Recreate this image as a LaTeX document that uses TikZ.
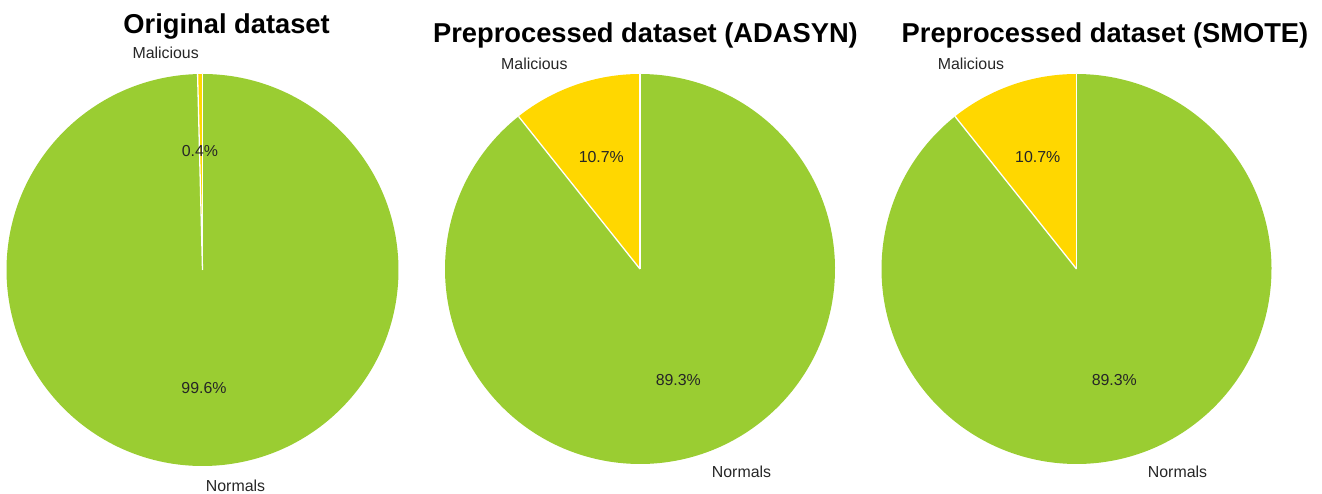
\documentclass[tikz,border=0pt]{standalone}
\usepackage{fontspec}
\setmainfont{Liberation Sans}
\definecolor{normalc}{HTML}{9ACD32}
\definecolor{malc}{HTML}{FFD700}
\definecolor{labc}{HTML}{262626}
\begin{document}
\begin{tikzpicture}[x=1pt,y=1pt,
  titletxt/.style={inner sep=0pt, anchor=base, font=\fontsize{27.3}{30}\selectfont\bfseries, text=black},
  lab/.style={inner sep=0pt, font=\fontsize{15.9}{18}\selectfont, text=labc},
  wedgeline/.style={draw=white, line width=1.3pt}]
\useasboundingbox (0,0) rectangle (1322,493);

% ---- Original dataset ----
\coordinate (c1) at (202.5,223);
\fill[normalc] (c1) -- ++(91.44:196) arc[start angle=91.44, end angle=450, radius=196] -- cycle;
\fill[malc] (c1) -- ++(90:196) arc[start angle=90, end angle=91.44, radius=196] -- cycle;
\draw[wedgeline] (c1) -- ++(90:196);
\draw[wedgeline] (c1) -- ++(91.44:196);
\node[titletxt] (t1) at (226.6,459) {Original dataset};
\node[lab, anchor=base east] (m1) at (199,434.5) {Malicious};
\node[lab, anchor=base] (p1m) at (200,336.5) {0.4\%};
\node[lab, anchor=base] (p1n) at (204,100) {99.6\%};
\node[lab, anchor=base west] (n1) at (205.7,2) {Normals};

% ---- Preprocessed dataset (ADASYN) ----
\coordinate (c2) at (640,224);
\fill[normalc] (c2) -- ++(128.52:195) arc[start angle=128.52, end angle=450, radius=195] -- cycle;
\fill[malc] (c2) -- ++(90:195) arc[start angle=90, end angle=128.52, radius=195] -- cycle;
\draw[wedgeline] (c2) -- ++(90:195);
\draw[wedgeline] (c2) -- ++(128.52:195);
\node[titletxt] (t2) at (645.5,450) {Preprocessed dataset (ADASYN)};
\node[lab, anchor=base east] (m2) at (567.7,423) {Malicious};
\node[lab, anchor=base] (p2m) at (601.3,330) {10.7\%};
\node[lab, anchor=base] (p2n) at (678.3,108) {89.3\%};
\node[lab, anchor=base west] (n2) at (711.7,16) {Normals};

% ---- Preprocessed dataset (SMOTE) ----
\coordinate (c3) at (1076.5,224);
\fill[normalc] (c3) -- ++(128.52:195) arc[start angle=128.52, end angle=450, radius=195] -- cycle;
\fill[malc] (c3) -- ++(90:195) arc[start angle=90, end angle=128.52, radius=195] -- cycle;
\draw[wedgeline] (c3) -- ++(90:195);
\draw[wedgeline] (c3) -- ++(128.52:195);
\node[titletxt] (t3) at (1105,450) {Preprocessed dataset (SMOTE)};
\node[lab, anchor=base east] (m3) at (1004.3,423) {Malicious};
\node[lab, anchor=base] (p3m) at (1037.7,330) {10.7\%};
\node[lab, anchor=base] (p3n) at (1114.3,108) {89.3\%};
\node[lab, anchor=base west] (n3) at (1147.7,16) {Normals};
\end{tikzpicture}
\end{document}
